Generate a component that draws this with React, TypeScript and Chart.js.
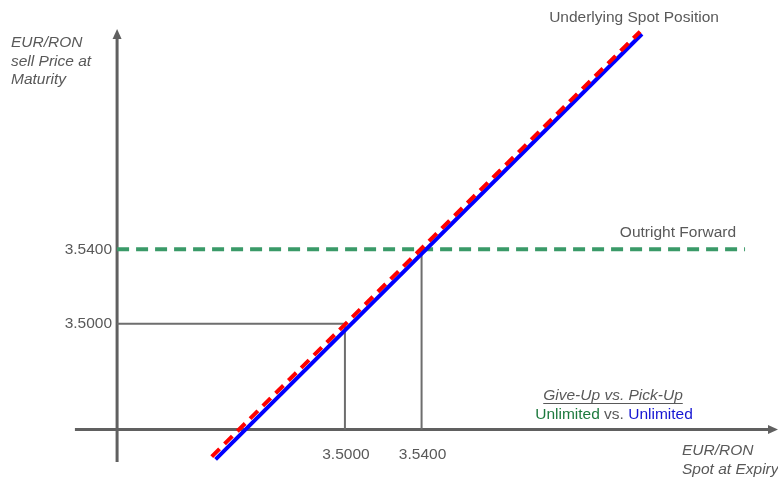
import React, { useEffect, useRef } from "react";
import { Chart, registerables } from "chart.js";

Chart.register(...registerables);

// ---- data (schematic payoff) ----
const tickValues = [3.5, 3.54];
const tickLabels = ["3.5000", "3.5400"];
const spotX = [3.4325, 3.655];
const spotY = [3.427, 3.6557];
const underlyingX = [3.4305, 3.654];
const underlyingY = [3.4285, 3.657];
const forwardLevel = 3.54;
const forwardX = [3.3811, 3.7088];
const originX = 3.3811;
const originY = 3.4431;
const xAxisSpan = [3.3591, 3.726];
const yAxisSpan = [3.4256, 3.6584];
const scaleX = [3.32, 3.726];
const scaleY = [3.417, 3.674];

const TEXT = "#595959";
const FONT = '"Liberation Sans", Arial, sans-serif';
const FS = 15.5;

const overlay = {
  id: "overlay",
  beforeDatasetsDraw(chart: any) {
    const { ctx } = chart;
    const xs = chart.scales.x;
    const ys = chart.scales.y;
    const px = (v: number) => xs.getPixelForValue(v);
    const py = (v: number) => ys.getPixelForValue(v);
    ctx.save();
    ctx.strokeStyle = "#606060";
    ctx.fillStyle = "#606060";
    ctx.lineWidth = 3;
    // y axis
    const yx = px(originX);
    const yTop = py(yAxisSpan[1]);
    ctx.beginPath();
    ctx.moveTo(yx, py(yAxisSpan[0]));
    ctx.lineTo(yx, yTop + 8);
    ctx.stroke();
    ctx.beginPath();
    ctx.moveTo(yx, yTop);
    ctx.lineTo(yx - 4.5, yTop + 10);
    ctx.lineTo(yx + 4.5, yTop + 10);
    ctx.closePath();
    ctx.fill();
    // x axis
    const xy = py(originY);
    const xRight = px(xAxisSpan[1]);
    ctx.beginPath();
    ctx.moveTo(px(xAxisSpan[0]), xy);
    ctx.lineTo(xRight - 8, xy);
    ctx.stroke();
    ctx.beginPath();
    ctx.moveTo(xRight, xy);
    ctx.lineTo(xRight - 10, xy - 4.5);
    ctx.lineTo(xRight - 10, xy + 4.5);
    ctx.closePath();
    ctx.fill();
    ctx.restore();
  },
  afterDraw(chart: any) {
    const { ctx } = chart;
    const xs = chart.scales.x;
    const ys = chart.scales.y;
    const px = (v: number) => xs.getPixelForValue(v);
    const py = (v: number) => ys.getPixelForValue(v);
    ctx.save();
    ctx.fillStyle = TEXT;
    ctx.textBaseline = "middle";
    ctx.font = `${FS}px ${FONT}`;
    // y tick labels
    ctx.textAlign = "right";
    tickValues.forEach((v, i) => {
      ctx.fillText(tickLabels[i], px(originX) - 5, py(v));
    });
    // x tick labels
    ctx.textAlign = "center";
    tickValues.forEach((v, i) => {
      ctx.fillText(tickLabels[i], px(v) + 1, py(originY) + 25);
    });
    // annotations
    ctx.fillText("Underlying Spot Position", 634, 18);
    ctx.fillText("Outright Forward", 678, 233);
    ctx.font = `italic ${FS}px ${FONT}`;
    ctx.fillText("Give-Up vs. Pick-Up", 613, 396);
    const w = ctx.measureText("Give-Up vs. Pick-Up").width;
    ctx.strokeStyle = TEXT;
    ctx.lineWidth = 1;
    ctx.beginPath();
    ctx.moveTo(613 - w / 2, 403.5);
    ctx.lineTo(613 + w / 2, 403.5);
    ctx.stroke();
    // Unlimited vs. Unlimited
    ctx.font = `${FS}px ${FONT}`;
    const a = "Unlimited";
    const b = " vs. ";
    const wa = ctx.measureText(a).width;
    const wb = ctx.measureText(b).width;
    const total = wa * 2 + wb;
    const sx = 614 - total / 2;
    ctx.textAlign = "left";
    ctx.fillStyle = "#1d7a3e";
    ctx.fillText(a, sx, 415);
    ctx.fillStyle = TEXT;
    ctx.fillText(b, sx + wa, 415);
    ctx.fillStyle = "#1414d2";
    ctx.fillText(a, sx + wa + wb, 415);
    // axis titles
    ctx.fillStyle = TEXT;
    ctx.font = `italic ${FS}px ${FONT}`;
    ctx.fillText("EUR/RON", 11, 43);
    ctx.fillText("sell Price at", 11, 62);
    ctx.fillText("Maturity", 11, 80);
    ctx.fillText("EUR/RON", 682, 451);
    ctx.fillText("Spot at Expiry", 682, 470);
    ctx.restore();
  },
};

export default function App() {
  const ref = useRef<HTMLCanvasElement>(null);
  useEffect(() => {
    document.body.style.margin = "0";
    const pt = (xa: number[], ya: number[]) => xa.map((x, i) => ({ x, y: ya[i] }));
    const chart = new Chart(ref.current as HTMLCanvasElement, {
      type: "scatter",
      data: {
        datasets: [
          {
            label: "Underlying Spot Position",
            data: pt(underlyingX, underlyingY),
            showLine: true,
            borderColor: "#ff0000",
            borderWidth: 4,
            borderDash: [11, 7],
            pointRadius: 0,
            clip: false,
          } as any,
          {
            label: "Spot",
            data: pt(spotX, spotY),
            showLine: true,
            borderColor: "#0000ff",
            borderWidth: 4,
            pointRadius: 0,
            clip: false,
          },
          {
            label: "Outright Forward",
            data: pt(forwardX, [forwardLevel, forwardLevel]),
            showLine: true,
            borderColor: "#3a9a68",
            borderWidth: 4,
            borderDash: [12, 7],
            pointRadius: 0,
            clip: false,
          },
          {
            label: "guide 3.5",
            data: [
              { x: originX, y: tickValues[0] },
              { x: tickValues[0], y: tickValues[0] },
              { x: tickValues[0], y: originY },
            ],
            showLine: true,
            borderColor: "#6e6e6e",
            borderWidth: 2,
            pointRadius: 0,
            clip: false,
          },
          {
            label: "guide 3.54",
            data: [
              { x: tickValues[1], y: tickValues[1] },
              { x: tickValues[1], y: originY },
            ],
            showLine: true,
            borderColor: "#6e6e6e",
            borderWidth: 2,
            pointRadius: 0,
            clip: false,
          },
        ],
      },
      options: {
        animation: false,
        responsive: false,
        layout: { padding: 0 },
        plugins: { legend: { display: false }, tooltip: { enabled: false } },
        scales: {
          x: { type: "linear", min: scaleX[0], max: scaleX[1], display: false },
          y: { type: "linear", min: scaleY[0], max: scaleY[1], display: false },
        },
      },
      plugins: [overlay],
    });
    return () => chart.destroy();
  }, []);
  return (
    <canvas
      ref={ref}
      width={778}
      height={478}
      style={{ display: "block", width: 778, height: 478 }}
    />
  );
}
